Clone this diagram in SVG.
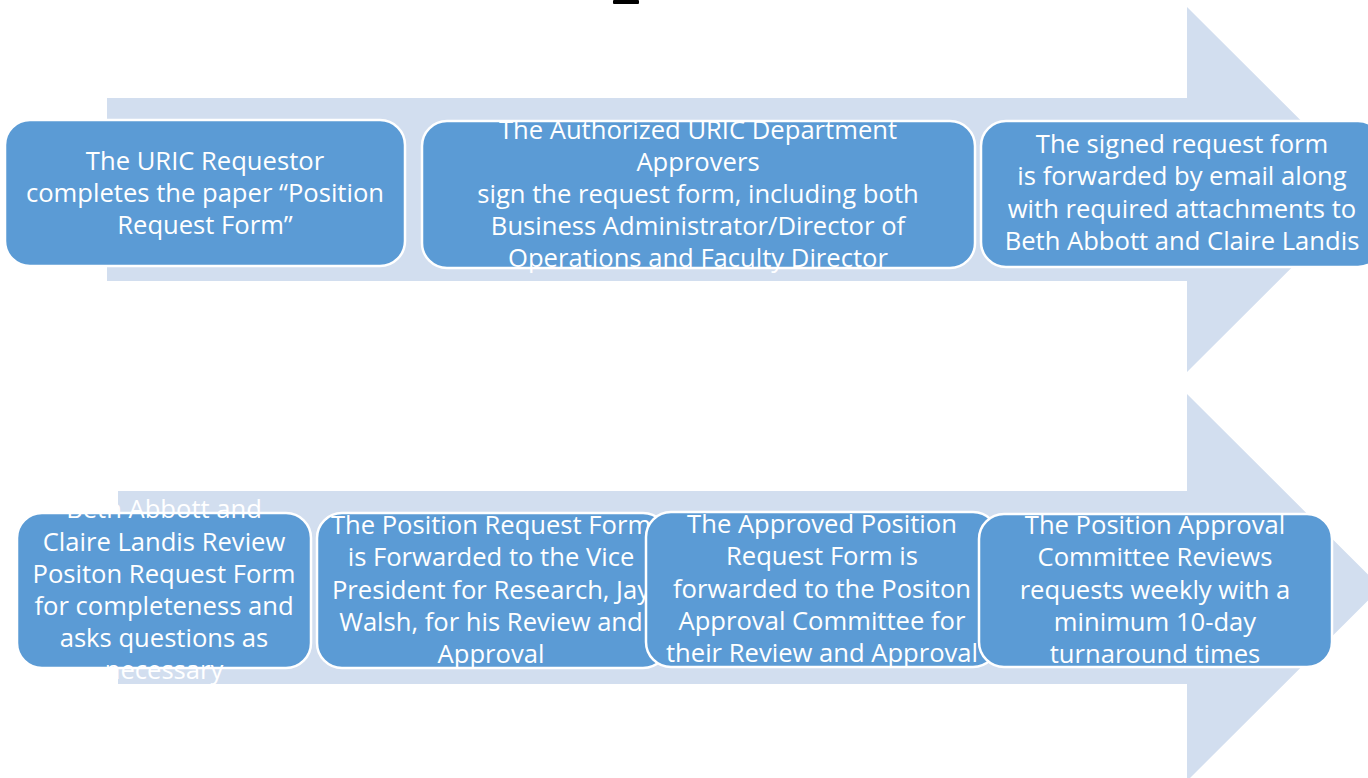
<svg xmlns="http://www.w3.org/2000/svg" width="1368" height="778" viewBox="0 0 1368 778">
  <style>
    .flow { fill: #D2DEEF; }
    .step { fill: #5B9BD5; stroke: #FFFFFF; stroke-width: 2.5; }
    .label { fill: #FFFFFF; font-family: "Open Sans", "Liberation Sans", sans-serif; font-size: 25.6px; text-anchor: middle; }
  </style>
  <rect width="1368" height="778" fill="#FFFFFF"/>
  <!-- title fragment at the top edge -->
  <rect x="613" y="0" width="26" height="4" rx="1" fill="#000000"/>

  <g id="connectors">
    <polygon class="flow" points="107,98 1187,98 1187,7 1370,189.5 1187,372 1187,281 107,281"/>
    <polygon class="flow" points="118,491 1187,491 1187,394 1381,587.5 1187,781 1187,684 118,684"/>
  </g>

  <g id="step1">
    <rect class="step" x="5" y="120" width="400" height="146" rx="25"/>
    <text class="label"><tspan x="205" y="170">The URIC Requestor</tspan><tspan x="205" y="202">completes the paper “Position</tspan><tspan x="205" y="234">Request Form”</tspan></text>
  </g>
  <g id="step2">
    <rect class="step" x="422" y="121" width="553" height="147" rx="25"/>
    <text class="label"><tspan x="698" y="139">The Authorized URIC Department</tspan><tspan x="698" y="171">Approvers</tspan><tspan x="698" y="203">sign the request form, including both</tspan><tspan x="698" y="235">Business Administrator/Director of</tspan><tspan x="698" y="267">Operations and Faculty Director</tspan></text>
  </g>
  <g id="step3">
    <rect class="step" x="981" y="121" width="402" height="146" rx="25"/>
    <text class="label"><tspan x="1182" y="153">The signed request form</tspan><tspan x="1182" y="185">is forwarded by email along</tspan><tspan x="1182" y="218">with required attachments to</tspan><tspan x="1182" y="250">Beth Abbott and Claire Landis</tspan></text>
  </g>

  <g id="step4">
    <rect class="step" x="17" y="513" width="294" height="155" rx="25"/>
    <text class="label"><tspan x="164" y="518">Beth Abbott and</tspan><tspan x="164" y="551">Claire Landis Review</tspan><tspan x="164" y="583">Positon Request Form</tspan><tspan x="164" y="615">for completeness and</tspan><tspan x="164" y="647">asks questions as</tspan><tspan x="164" y="679">necessary</tspan></text>
  </g>
  <g id="step5">
    <rect class="step" x="317" y="513" width="351" height="155" rx="25"/>
    <text class="label"><tspan x="491" y="534">The Position Request Form</tspan><tspan x="491" y="566">is Forwarded to the Vice</tspan><tspan x="491" y="599">President for Research, Jay</tspan><tspan x="491" y="631">Walsh, for his Review and</tspan><tspan x="491" y="663">Approval</tspan></text>
  </g>
  <g id="step6">
    <rect class="step" x="646" y="512" width="352" height="155" rx="25"/>
    <text class="label"><tspan x="822" y="533">The Approved Position</tspan><tspan x="822" y="565">Request Form is</tspan><tspan x="822" y="598">forwarded to the Positon</tspan><tspan x="822" y="630">Approval Committee for</tspan><tspan x="822" y="662">their Review and Approval</tspan></text>
  </g>
  <g id="step7">
    <rect class="step" x="979" y="514" width="353" height="153" rx="25"/>
    <text class="label"><tspan x="1155" y="534">The Position Approval</tspan><tspan x="1155" y="566">Committee Reviews</tspan><tspan x="1155" y="599">requests weekly with a</tspan><tspan x="1155" y="631">minimum 10-day</tspan><tspan x="1155" y="663">turnaround times</tspan></text>
  </g>
</svg>
